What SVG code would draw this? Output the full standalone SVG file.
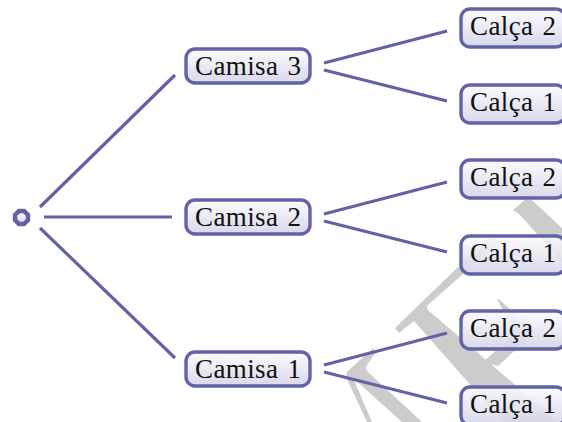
<svg xmlns="http://www.w3.org/2000/svg" width="562" height="422" viewBox="0 0 562 422">
<style>
.n{stroke:#6262a6;stroke-width:3.4;fill:url(#g)}
.t{font-family:"Liberation Serif",serif;font-size:27px;fill:#111;letter-spacing:.4px;word-spacing:2px}
.c{stroke:#6262a6;stroke-width:3.2;fill:none}
.w{fill:#cccccc}
</style>
<defs><linearGradient id="g" x1="0" y1="0" x2="0" y2="1"><stop offset="0" stop-color="#fbfbfd" stop-opacity=".9"/><stop offset="1" stop-color="#d4d4e8" stop-opacity=".9"/></linearGradient></defs>
<g id="watermark">
<path class="w" d="M513 210L526 199Q530 198 534 202L562 228V262L520 215ZM395 328L490 236L498 243L428 305Q426 307 428 310L513 383L562 428V422H503L414 321L399 333ZM497 298L500 300L535 332L498 366L483 362L514 335Z"/>
<path class="w" d="M347 372L373 348L376 352L367 365Q365 369 368 372L422 422H402L353 378L372 422H367L346 377Z"/>
</g>
<g id="connectors">
<path class="c" d="M40 207L175 75M44 217H172M40 228L175 358M324 63L447 31M324 70L447 101M324 214L447 182M324 221L447 252M324 365L447 333M324 372L447 403"/>
</g>
<g id="root"><path class="n" style="stroke-width:4.4" d="M19 211H24L28 215V220L24 224H19L15 220V215Z"/></g>
<g id="camisa3"><rect class="n" x="186" y="49" width="124" height="34" rx="9"/><text class="t" x="195" y="75">Camisa 3</text></g>
<g id="camisa2"><rect class="n" x="186" y="200" width="124" height="34" rx="9"/><text class="t" x="195" y="226">Camisa 2</text></g>
<g id="camisa1"><rect class="n" x="186" y="352" width="124" height="34" rx="9"/><text class="t" x="195" y="378">Camisa 1</text></g>
<g id="c32"><rect class="n" x="461" y="9" width="104" height="38" rx="9"/><text class="t" x="470" y="35">Calça 2</text></g>
<g id="c31"><rect class="n" x="461" y="85" width="104" height="38" rx="9"/><text class="t" x="470" y="111">Calça 1</text></g>
<g id="c22"><rect class="n" x="461" y="160" width="104" height="38" rx="9"/><text class="t" x="470" y="186">Calça 2</text></g>
<g id="c21"><rect class="n" x="461" y="236" width="104" height="38" rx="9"/><text class="t" x="470" y="262">Calça 1</text></g>
<g id="c12"><rect class="n" x="461" y="311" width="104" height="38" rx="9"/><text class="t" x="470" y="337">Calça 2</text></g>
<g id="c11"><rect class="n" x="461" y="387" width="104" height="38" rx="9"/><text class="t" x="470" y="413">Calça 1</text></g>
</svg>
